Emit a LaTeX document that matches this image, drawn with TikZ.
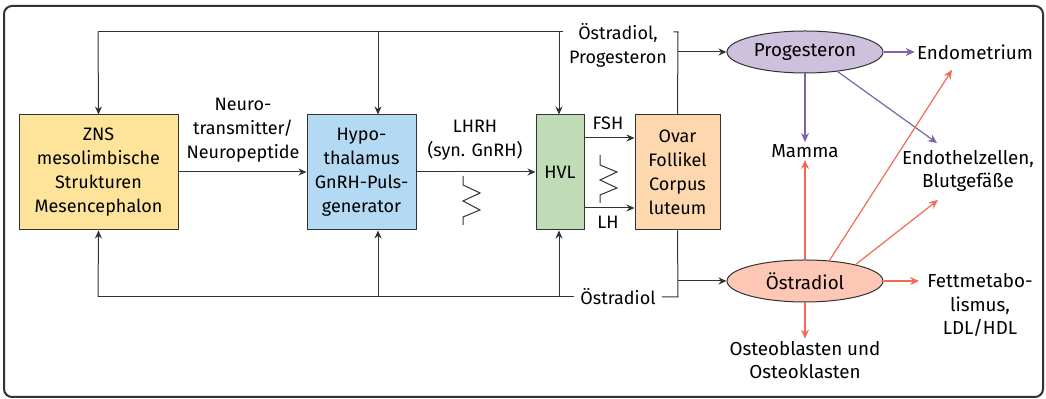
\documentclass[tikz,border=0pt]{standalone}
\usepackage{fontspec}
\setmainfont{Fira Sans}
\usetikzlibrary{arrows.meta, positioning, shapes.geometric, calc}
\definecolor{znsyellow}{RGB}{254, 228, 155}
\definecolor{hypoblue}{RGB}{180, 217, 242}
\definecolor{hvlgreen}{RGB}{191, 220, 183}
\definecolor{ovarpeach}{RGB}{253, 215, 174}
\definecolor{proglilac}{RGB}{205, 193, 222}
\definecolor{oestsalmon}{RGB}{252, 199, 181}
\definecolor{progpurple}{RGB}{127, 98, 168}
\definecolor{oestred}{RGB}{242, 107, 85}
\definecolor{linegray}{RGB}{50, 50, 50}

\begin{document}
\begin{tikzpicture}[
			x=0.5pt, y=-0.5pt,
			font=\fontsize{9}{12}\selectfont,
			organ/.style={rectangle, draw=linegray, line width=0.5pt, minimum height=57.5pt, align=center, inner sep=1pt},
			hormone/.style={ellipse, draw=linegray, line width=0.5pt, minimum width=78pt, minimum height=21pt, inner sep=0pt, font=\fontsize{9.4}{12}\selectfont},
			target/.style={align=center, inner sep=1pt, font=\fontsize{9.4}{11.8}\selectfont},
			label/.style={align=center, inner sep=1pt},
			feedback/.style={align=center, inner xsep=3pt, inner ysep=1pt},
			arrow/.style={-{Stealth[length=4pt, width=3.5pt]}, line width=0.5pt, draw=linegray},
			line/.style={line width=0.5pt, draw=linegray},
			parrow/.style={-{Stealth[length=4.5pt, width=4pt]}, line width=0.6pt, draw=progpurple},
			oarrow/.style={-{Stealth[length=4.5pt, width=4pt]}, line width=0.6pt, draw=oestred}
		]
		\useasboundingbox (0,0) rectangle (1046,399);
		\draw[line width=1pt, draw=linegray, rounded corners=4pt] (4,6) rectangle (1043,397);
		
		% Regelkreis
		\node[organ, fill=znsyellow, minimum width=79.5pt] (zns) at (98.5,172.5) {ZNS\\mesolimbische\\Strukturen\\Mesencephalon};
		\node[organ, fill=hypoblue, minimum width=54.5pt] (hypo) at (361.5,172.5) {Hypo-\\thalamus\\GnRH-Puls-\\generator};
		\node[organ, fill=hvlgreen, minimum width=24pt] (hvl) at (560,172.5) {HVL};
		\node[organ, fill=ovarpeach, minimum width=42.5pt] (ovar) at (677.5,172.5) {Ovar\\Follikel\\Corpus\\luteum};
		
		\draw[arrow] (zns.east |- 0,172) -- (hypo.west |- 0,172);
		\node[label] (neuro) at (243,130) {Neuro-\\transmitter/\\Neuropeptide};
		\draw[arrow] (hypo.east |- 0,172) -- (hvl.west |- 0,172);
		\node[label] (lhrh) at (475,140) {LHRH\\(syn. GnRH)};
		\draw[arrow] (hvl.east |- 0,138) -- (ovar.west |- 0,138);
		\draw[arrow] (hvl.east |- 0,208) -- (ovar.west |- 0,208);
		\node[label] (fsh) at (608,123) {FSH};
		\node[label] (lh) at (608,222) {LH};
		
		% Pulse
		\draw[line] (463,176) -- (463,185) -- (480,193) -- (463,201) -- (480,210) -- (463,217) -- (463,225);
		\draw[line] (600,155) -- (600,165) -- (617,172) -- (600,180) -- (617,188) -- (600,195) -- (600,203);
		
		% Rueckkopplung oben
		\node[feedback] (fb-top) at (618,45) {Östradiol,\\Progesteron};
		\coordinate (top-l) at (98,32);
		\coordinate (top-r) at (678,32);
		\draw[line] (fb-top.west |- top-l) -- (top-l);
		\draw[line] (fb-top.east |- top-r) -- (top-r) -- (ovar.north);
		\draw[arrow] (top-l) -- (zns.north);
		\draw[arrow] (378,32) -- (hypo.north -| 378,0);
		\draw[arrow] (559,32) -- (hvl.north -| 559,0);
		
		% Rueckkopplung unten
		\node[feedback] (fb-bot) at (618,297) {Östradiol};
		\coordinate (bot-l) at (98,297);
		\coordinate (bot-r) at (678,297);
		\draw[line] (fb-bot.west) -- (bot-l);
		\draw[line] (fb-bot.east) -- (bot-r) -- (ovar.south);
		\draw[arrow] (bot-l) -- (zns.south);
		\draw[arrow] (378,297) -- (hypo.south -| 378,0);
		\draw[arrow] (559,297) -- (hvl.south -| 559,0);
		
		% Hormone
		\node[hormone, fill=proglilac] (prog) at (805,52) {Progesteron};
		\node[hormone, fill=oestsalmon] (oest) at (805,281) {Östradiol};
		\draw[arrow] (top-r |- prog.west) -- (prog.west);
		\draw[arrow] (bot-r |- oest.west) -- (oest.west);
		
		% Zielorgane
		\node[target] (endo) at (975,52) {Endometrium};
		\node[target] (mamma) at (805,151) {Mamma};
		\node[target] (gefaess) at (968,171) {Endothelzellen,\\Blutgefäße};
		\node[target] (fett) at (980,305) {Fettmetabo-\\lismus,\\LDL/HDL};
		\node[target] (osteo) at (805,360) {Osteoblasten und\\Osteoklasten};
		
		\draw[parrow] (prog.east) -- (endo.west);
		\draw[parrow] (prog.south) -- (mamma.north);
		\draw[parrow] (prog.-31) -- (937,143);
		
		\draw[oarrow] (oest.north) -- (mamma.south);
		\draw[oarrow] (oest.40) -- (952,70);
		\draw[oarrow] (oest.18) -- (938,200);
		\draw[oarrow] (oest.east) -- (919,281);
		\draw[oarrow] (oest.south) -- (osteo.north);
		\end{tikzpicture}
\end{document}
